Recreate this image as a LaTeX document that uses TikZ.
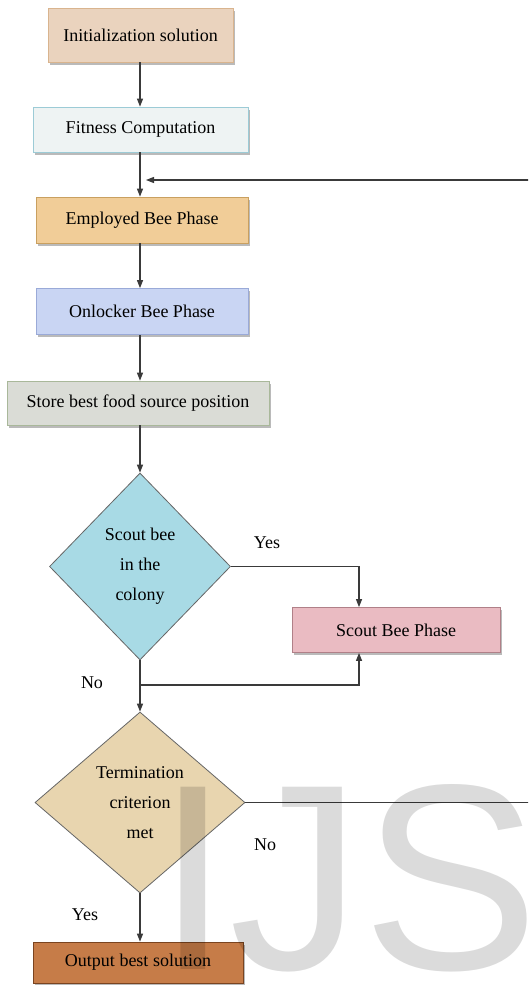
\documentclass[tikz,border=0pt]{standalone}
\usepackage{fontspec}
\setmainfont{Liberation Serif}
\newfontfamily\wmfont{Liberation Sans}
\usetikzlibrary{shapes.geometric,arrows.meta,shadows}
\definecolor{cInit}{HTML}{EAD3BE}
\definecolor{cInitB}{HTML}{D9B48E}
\definecolor{cFit}{HTML}{EEF3F3}
\definecolor{cFitB}{HTML}{9CCBD6}
\definecolor{cEmp}{HTML}{F1CD98}
\definecolor{cEmpB}{HTML}{C9A060}
\definecolor{cOnl}{HTML}{C9D5F3}
\definecolor{cOnlB}{HTML}{9AAAD8}
\definecolor{cSto}{HTML}{DADCD6}
\definecolor{cStoB}{HTML}{A9B89A}
\definecolor{cDA}{HTML}{A8DAE5}
\definecolor{cSco}{HTML}{EABBC2}
\definecolor{cScoB}{HTML}{B08088}
\definecolor{cDB}{HTML}{E8D5AF}
\definecolor{cOut}{HTML}{C67C48}
\definecolor{cOutB}{HTML}{7A4420}
\definecolor{cLine}{HTML}{3A3A3A}
\tikzset{
  stepbox/.style={rectangle, inner sep=0pt, line width=0.8pt,
    font=\fontsize{18}{20}\selectfont,
    drop shadow={shadow xshift=2pt, shadow yshift=-2.5pt, fill=black!45, opacity=0.6}},
  decision/.style={diamond, inner sep=0pt, draw=black!60, line width=0.8pt,
    align=center, font=\fontsize{18}{30}\selectfont},
  arr/.style={draw=cLine, line width=1.1pt, -{Triangle[length=8pt,width=6pt]}},
  lbl/.style={font=\fontsize{18}{20}\selectfont, inner sep=0pt}
}
\begin{document}
\begin{tikzpicture}[x=1pt,y=-1pt]
\useasboundingbox (0,0) rectangle (528,985);
\fill[white] (0,0) rectangle (528,985);
\begin{scope}
\clip (0,0) rectangle (528,985);

\node[stepbox, fill=cInit, draw=cInitB, minimum width=185pt, minimum height=54pt] (init) at (140.5,35) {Initialization solution};
\node[stepbox, fill=cFit, draw=cFitB, minimum width=215pt, minimum height=45pt] (fit) at (140.5,129.5) {Fitness Computation};
\node[stepbox, fill=cEmp, draw=cEmpB, minimum width=212pt, minimum height=46pt] (emp) at (142,220) {Employed Bee Phase};
\node[stepbox, fill=cOnl, draw=cOnlB, minimum width=212pt, minimum height=46pt] (onl) at (142,311.5) {Onlocker Bee Phase};
\node[stepbox, fill=cSto, draw=cStoB, minimum width=262pt, minimum height=44pt] (sto) at (138,403) {Store best food source position};
\node[decision, fill=cDA, minimum width=181pt, minimum height=187pt] (d1) at (140,566.5) {Scout bee\\in the\\colony};
\node[stepbox, fill=cSco, draw=cScoB, minimum width=208pt, minimum height=45pt] (sco) at (396,630) {Scout Bee Phase};
\node[decision, fill=cDB, minimum width=210pt, minimum height=181pt] (d2) at (140,802.5) {Termination\\criterion\\met};
\node[stepbox, fill=cOut, draw=cOutB, minimum width=210pt, minimum height=41pt] (out) at (138,962.5) {Output best solution};

\coordinate (sx) at (359,0);
\coordinate (rx) at (545,0);
\coordinate (fb) at (146,180);
\coordinate (nob) at (140,685);

\draw[arr] (init.south -| 140,0) -- (fit.north -| 140,0);
\draw[arr] (fit.south -| 140,0) -- (emp.north -| 140,0);
\draw[arr] (emp.south -| 140,0) -- (onl.north -| 140,0);
\draw[arr] (onl.south -| 140,0) -- (sto.north -| 140,0);
\draw[arr] (sto.south -| 140,0) -- (d1.north);
\draw[arr] (d1.east) -| (sco.north -| sx);
\draw[arr] (d1.south) -- (d2.north);
\draw[arr] (nob) -| (sco.south -| sx);
\draw[arr] (d2.south) -- (out.north -| 140,0);
\draw[arr] (d2.east) -- (d2.east -| rx) -- (fb -| rx) -- (fb);

\node[lbl] (y1) at (267,543) {Yes};
\node[lbl] (n1) at (92,683) {No};
\node[lbl] (n2) at (265,845) {No};
\node[lbl] (y2) at (85,915) {Yes};

\node[anchor=base west, inner sep=0pt, text=black, opacity=0.14,
  font=\wmfont\fontsize{265}{265}\selectfont] (wm) at (156,969) {IJS};
\end{scope}
\end{tikzpicture}
\end{document}
